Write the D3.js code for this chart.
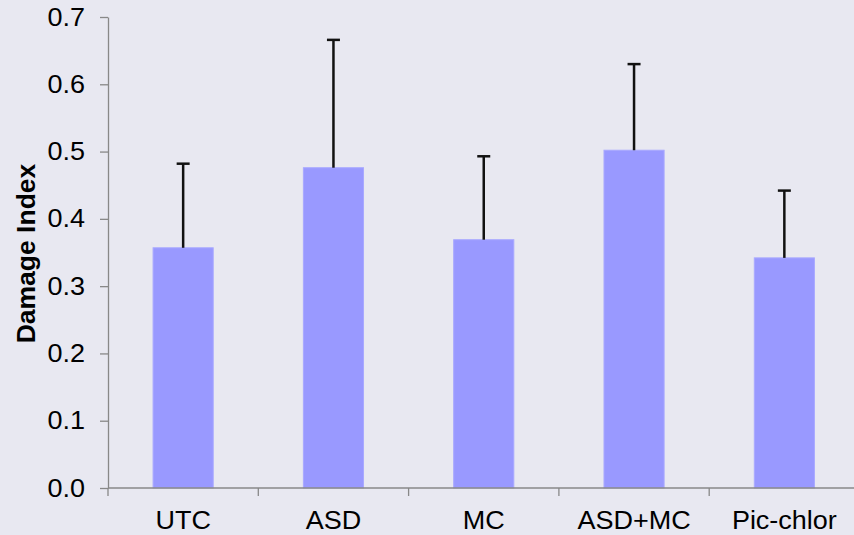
<!DOCTYPE html>
<html>
<head>
<meta charset="utf-8">
<script src="https://cdn.jsdelivr.net/npm/d3@7"></script>
<style>
  html, body { margin: 0; padding: 0; background: #e8e8f1; }
  svg { display: block; }
  text { font-family: "Liberation Sans", Arial, sans-serif; fill: #000; }
</style>
</head>
<body>
<svg id="chart" width="854" height="535"></svg>
<script>
// Treatment groups and their mean damage index with upper error (SD)
const categories = ["UTC", "ASD", "MC", "ASD+MC", "Pic-chlor"];
const means = [0.357, 0.476, 0.369, 0.502, 0.342];
const errors = [0.125, 0.190, 0.124, 0.128, 0.100];
const yTicks = [0, 0.1, 0.2, 0.3, 0.4, 0.5, 0.6, 0.7];

const svg = d3.select("#chart");
const plotLeft = 108, plotRight = 859.5, plotTop = 17, plotBottom = 488;
const stretch = 1.08; // text is drawn slightly wide

const x = d3.scaleBand()
  .domain(categories)
  .range([plotLeft, plotRight])
  .paddingInner(0.6)
  .paddingOuter(0.3);

const y = d3.scaleLinear().domain([0, 0.7]).range([plotBottom, plotTop]);

// bars
svg.append("g").selectAll("rect")
  .data(categories)
  .join("rect")
  .attr("x", d => x(d))
  .attr("y", (d, i) => y(means[i]))
  .attr("width", x.bandwidth())
  .attr("height", (d, i) => y(0) - y(means[i]))
  .attr("fill", "#9999ff")
  .attr("stroke", "#a9a9ff")
  .attr("stroke-width", 1);

// upper error bars
const eb = svg.append("g").attr("stroke", "#111").attr("stroke-width", 2.5);
categories.forEach((c, i) => {
  const cx = x(c) + x.bandwidth() / 2;
  eb.append("line")
    .attr("x1", cx).attr("x2", cx)
    .attr("y1", y(means[i])).attr("y2", y(means[i] + errors[i]));
  eb.append("line")
    .attr("x1", cx - 6.5).attr("x2", cx + 6.5)
    .attr("y1", y(means[i] + errors[i])).attr("y2", y(means[i] + errors[i]));
});

// y axis
const yAxis = svg.append("g")
  .attr("transform", `translate(${plotLeft},0)`)
  .call(d3.axisLeft(y).tickValues(yTicks).tickFormat(d3.format(".1f")).tickSize(8).tickSizeOuter(0).tickPadding(15));
yAxis.selectAll("path, line").attr("stroke", "#888").attr("stroke-width", 1.3);
yAxis.selectAll("text")
  .attr("x", 0)
  .attr("transform", `translate(-23,0) scale(${stretch},1)`)
  .attr("font-size", 25)
  .style("font-family", '"Liberation Sans", Arial, sans-serif')
  .attr("fill", "#000");

// x axis: baseline with ticks between categories
const xg = svg.append("g");
xg.append("line")
  .attr("x1", plotLeft).attr("x2", plotRight)
  .attr("y1", plotBottom).attr("y2", plotBottom)
  .attr("stroke", "#888").attr("stroke-width", 1.3);
d3.range(categories.length + 1).forEach(k => {
  const tx = plotLeft + k * x.step();
  xg.append("line")
    .attr("x1", tx).attr("x2", tx)
    .attr("y1", plotBottom).attr("y2", plotBottom + 8)
    .attr("stroke", "#888").attr("stroke-width", 1.3);
});
xg.selectAll("text.cat")
  .data(categories)
  .join("text")
  .attr("class", "cat")
  .attr("transform", d => `translate(${x(d) + x.bandwidth() / 2},529) scale(${stretch},1)`)
  .attr("text-anchor", "middle")
  .attr("font-size", 25)
  .text(d => d);

// y axis title
svg.append("text")
  .attr("transform", `translate(35,253.5) rotate(-90)`)
  .attr("text-anchor", "middle")
  .attr("font-size", 26.5)
  .attr("font-weight", "bold")
  .text("Damage Index");
</script>
</body>
</html>
